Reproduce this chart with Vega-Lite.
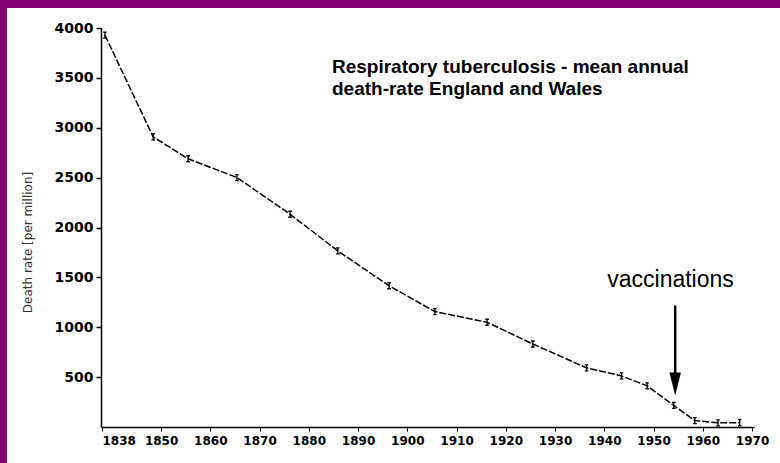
{
  "$schema": "https://vega.github.io/schema/vega-lite/v6.json",
  "width": 653,
  "height": 399,
  "autosize": {"type": "none"},
  "padding": {"left": 101, "top": 28, "right": 26, "bottom": 36},
  "background": "white",
  "config": {
    "view": {"stroke": null},
    "axis": {"grid": false}
  },
  "layer": [
    {
      "data": {
        "values": [
          {"year": 1838.6, "rate": 3928},
          {"year": 1848.4, "rate": 2908},
          {"year": 1855.5, "rate": 2689},
          {"year": 1865.4, "rate": 2501},
          {"year": 1876.2, "rate": 2133},
          {"year": 1885.9, "rate": 1765},
          {"year": 1896.3, "rate": 1416},
          {"year": 1905.6, "rate": 1157},
          {"year": 1916.2, "rate": 1050},
          {"year": 1925.5, "rate": 832},
          {"year": 1936.4, "rate": 593},
          {"year": 1943.5, "rate": 512},
          {"year": 1948.7, "rate": 413},
          {"year": 1954.1, "rate": 216},
          {"year": 1958.4, "rate": 64},
          {"year": 1963.1, "rate": 42},
          {"year": 1967.5, "rate": 43}
        ]
      },
      "layer": [
        {
          "mark": {"type": "line", "color": "black", "strokeWidth": 1.5, "strokeDash": [7, 2]},
          "encoding": {
            "x": {
              "field": "year", "type": "quantitative",
              "scale": {"domain": [1837.8, 1970.4], "nice": false, "zero": false},
              "axis": {
                "title": null,
                "values": [1838, 1850, 1860, 1870, 1880, 1890, 1900, 1910, 1920, 1930, 1940, 1950, 1960, 1970],
                "format": "d",
                "ticks": true,
                "tickSize": 4,
                "tickColor": "black",
                "tickWidth": 1,
                "domainColor": "black",
                "domainWidth": 1.5,
                "labelFont": "DejaVu Sans",
                "labelFontSize": 12,
                "labelFontWeight": 600,
                "labelColor": "black",
                "labelPadding": 4
              }
            },
            "y": {
              "field": "rate", "type": "quantitative",
              "scale": {"domain": [0, 4000], "nice": false},
              "axis": {
                "title": "Death rate [per million]",
                "titleFont": "DejaVu Sans",
                "titleFontSize": 12,
                "titleFontWeight": "normal",
                "titleColor": "#333333",
                "titleX": -67,
                "titleY": 214,
                "values": [500, 1000, 1500, 2000, 2500, 3000, 3500, 4000],
                "format": "d",
                "ticks": true,
                "tickSize": 5,
                "tickColor": "black",
                "tickWidth": 1.5,
                "domainColor": "black",
                "domainWidth": 1.5,
                "labelFont": "DejaVu Sans",
                "labelFontSize": 14,
                "labelFontWeight": 600,
                "labelColor": "black",
                "labelPadding": 3
              }
            }
          }
        },
        {
          "mark": {"type": "point", "shape": "M0,-1L0,1M-0.6,-1L0.6,-1M-0.6,1L0.6,1", "size": 36, "filled": false, "stroke": "black", "strokeWidth": 1.3, "opacity": 1},
          "encoding": {
            "x": {"field": "year", "type": "quantitative"},
            "y": {"field": "rate", "type": "quantitative"}
          }
        }
      ]
    },
    {
      "data": {"values": [{}]},
      "layer": [
        {
          "mark": {"type": "rect", "color": "#86006f", "clip": false},
          "encoding": {
            "x": {"datum": 1790, "type": "quantitative"},
            "x2": {"datum": 2000},
            "y": {"datum": 4200, "type": "quantitative"},
            "y2": {"datum": 6000}
          }
        },
        {
          "mark": {"type": "rect", "color": "#86006f", "clip": false},
          "encoding": {
            "x": {"datum": 1790, "type": "quantitative"},
            "x2": {"datum": 1818.7},
            "y": {"datum": -1000, "type": "quantitative"},
            "y2": {"datum": 6000}
          }
        },
        {
          "mark": {"type": "text", "align": "left", "baseline": "alphabetic", "font": "Liberation Sans", "fontSize": 19, "fontWeight": "bold", "color": "black", "lineHeight": 22},
          "encoding": {
            "x": {"datum": 1884.7, "type": "quantitative"},
            "y": {"datum": 3546, "type": "quantitative"},
            "text": {"value": ["Respiratory tuberculosis - mean annual", "death-rate England and Wales"]}
          }
        },
        {
          "mark": {"type": "text", "align": "left", "baseline": "alphabetic", "font": "Liberation Sans", "fontSize": 23, "color": "black"},
          "encoding": {
            "x": {"datum": 1940.6, "type": "quantitative"},
            "y": {"datum": 1401, "type": "quantitative"},
            "text": {"value": "vaccinations"}
          }
        },
        {
          "mark": {"type": "rule", "color": "black", "strokeWidth": 2.5},
          "encoding": {
            "x": {"datum": 1954.4, "type": "quantitative"},
            "y": {"datum": 1218, "type": "quantitative"},
            "y2": {"datum": 497}
          }
        },
        {
          "mark": {"type": "point", "shape": "M-0.5,-1L0.5,-1L0,1Z", "size": 529, "filled": true, "color": "black", "opacity": 1},
          "encoding": {
            "x": {"datum": 1954.4, "type": "quantitative"},
            "y": {"datum": 432, "type": "quantitative"}
          }
        }
      ]
    }
  ]
}
